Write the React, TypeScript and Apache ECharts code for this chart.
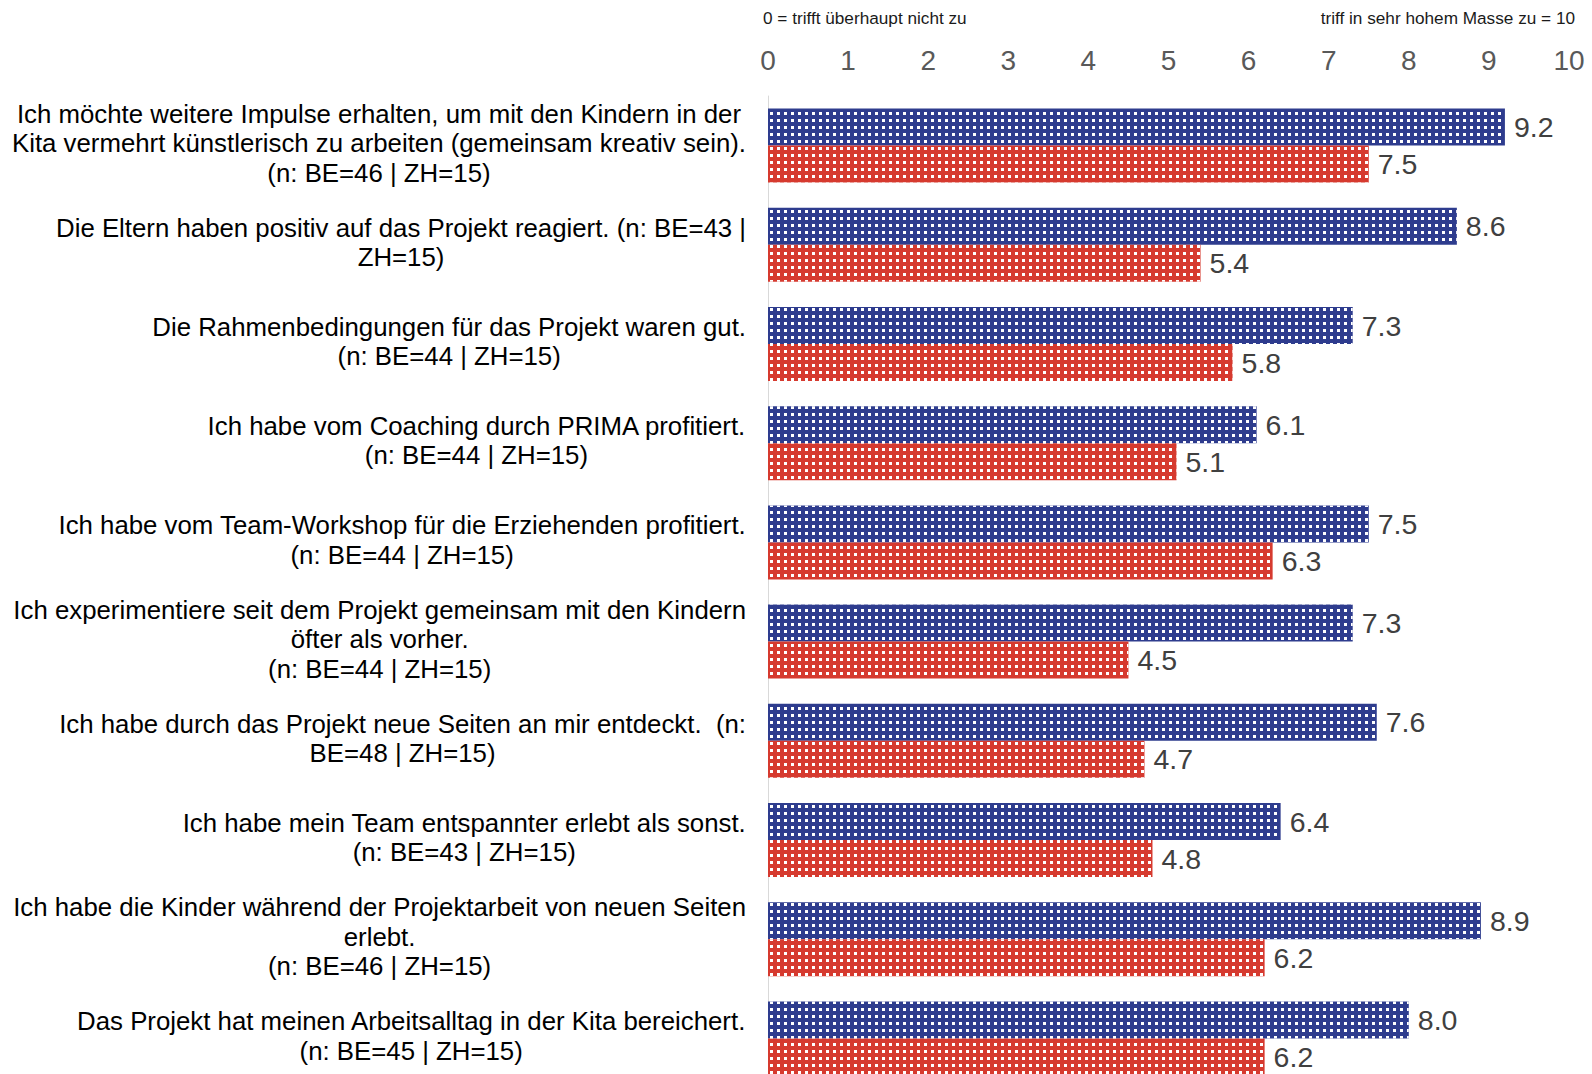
import React, { useEffect, useRef } from "react";
import * as echarts from "echarts";

const categories: string[] = [
  "Ich möchte weitere Impulse erhalten, um mit den Kindern in der\nKita vermehrt künstlerisch zu arbeiten (gemeinsam kreativ sein).\n(n: BE=46 | ZH=15)",
  "Die Eltern haben positiv auf das Projekt reagiert. (n: BE=43 |\nZH=15)",
  "Die Rahmenbedingungen für das Projekt waren gut.\n(n: BE=44 | ZH=15)",
  "Ich habe vom Coaching durch PRIMA profitiert.\n(n: BE=44 | ZH=15)",
  "Ich habe vom Team-Workshop für die Erziehenden profitiert.\n(n: BE=44 | ZH=15)",
  "Ich experimentiere seit dem Projekt gemeinsam mit den Kindern\nöfter als vorher.\n(n: BE=44 | ZH=15)",
  "Ich habe durch das Projekt neue Seiten an mir entdeckt.  (n:\nBE=48 | ZH=15)",
  "Ich habe mein Team entspannter erlebt als sonst.\n(n: BE=43 | ZH=15)",
  "Ich habe die Kinder während der Projektarbeit von neuen Seiten\nerlebt.\n(n: BE=46 | ZH=15)",
  "Das Projekt hat meinen Arbeitsalltag in der Kita bereichert.\n(n: BE=45 | ZH=15)",
];

const valuesBE: number[] = [9.2, 8.6, 7.3, 6.1, 7.5, 7.3, 7.6, 6.4, 8.9, 8.0];
const valuesZH: number[] = [7.5, 5.4, 5.8, 5.1, 6.3, 4.5, 4.7, 4.8, 6.2, 6.2];

const scaleLeftText = "0 = trifft überhaupt nicht zu";
const scaleRightText = "triff in sehr hohem Masse zu = 10";

const FONT = "'Liberation Sans', Arial, sans-serif";

const decal = {
  symbol: "rect",
  symbolSize: 1,
  color: "#ffffff",
  dashArrayX: [2.2, 3.3],
  dashArrayY: [2.2, 3.3],
  rotation: 0,
};

export default function App() {
  const ref = useRef<HTMLDivElement>(null);

  useEffect(() => {
    if (!ref.current) return;
    const chart = echarts.init(ref.current, undefined, { renderer: "svg" });
    const valueLabel = {
      show: true,
      position: "right",
      distance: 9,
      fontFamily: FONT,
      fontSize: 28.5,
      color: "#404040",
      formatter: (p: any) => Number(p.value).toFixed(1),
    };
    chart.setOption({
      animation: false,
      backgroundColor: "#ffffff",
      aria: { enabled: false },
      grid: {
        left: 768,
        right: 23,
        top: 96,
        height: 992,
        containLabel: false,
        outerBoundsMode: "none",
      },
      xAxis: {
        type: "value",
        position: "top",
        min: 0,
        max: 10,
        interval: 1,
        axisLine: { show: false },
        axisTick: { show: false },
        splitLine: { show: false },
        axisLabel: {
          margin: 22,
          fontFamily: FONT,
          fontSize: 28,
          color: "#595959",
        },
      },
      yAxis: {
        type: "category",
        inverse: true,
        data: categories,
        axisLine: { show: true, lineStyle: { color: "#d9d9d9", width: 1 } },
        axisTick: { show: false },
        axisLabel: {
          margin: 22,
          interval: 0,
          align: "right",
          padding: [0, 0, 5, 0],
          formatter: (v: string) =>
            v
              .split("\n")
              .map((l) => `{c|${l}}`)
              .join("\n"),
          rich: {
            c: {
              align: "center",
              fontFamily: FONT,
              fontSize: 25.8,
              lineHeight: 29.5,
              color: "#000000",
            },
          },
        },
      },
      series: [
        {
          name: "BE",
          type: "bar",
          data: valuesBE,
          barWidth: 37,
          barGap: "0%",
          itemStyle: { color: "#2E3C8E", decal },
          label: valueLabel,
        },
        {
          name: "ZH",
          type: "bar",
          data: valuesZH,
          barWidth: 37,
          barGap: "0%",
          itemStyle: { color: "#D63A2F", decal },
          label: valueLabel,
        },
      ],
      graphic: [
        {
          type: "text",
          left: 763,
          top: 9,
          style: {
            text: scaleLeftText,
            fontFamily: FONT,
            fontSize: 17.2,
            fill: "#1a1a1a",
          },
        },
        {
          type: "text",
          right: 17,
          top: 9,
          style: {
            text: scaleRightText,
            fontFamily: FONT,
            fontSize: 17.2,
            fill: "#1a1a1a",
          },
        },
      ],
    });
    return () => chart.dispose();
  }, []);

  return (
    <div
      ref={ref}
      style={{ position: "fixed", left: 0, top: 0, width: 1592, height: 1074 }}
    />
  );
}
